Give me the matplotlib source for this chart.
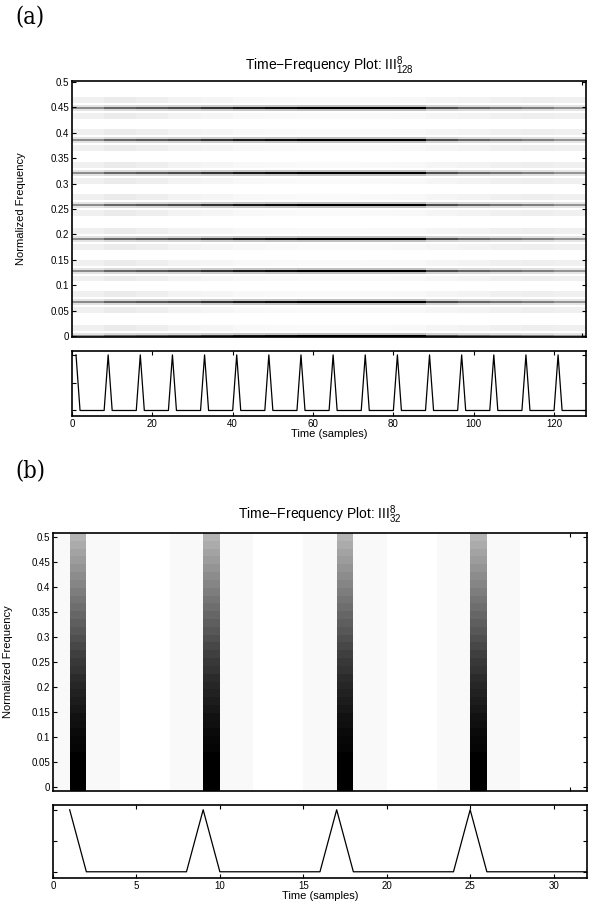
import numpy as np
import matplotlib
matplotlib.use("Agg")
import matplotlib.pyplot as plt

plt.rcParams['font.family'] = ['Liberation Sans', 'DejaVu Sans']
plt.rcParams['mathtext.fontset'] = 'custom'
plt.rcParams['mathtext.rm'] = 'Liberation Sans'
plt.rcParams['mathtext.it'] = 'Liberation Sans'

# ---- panel (a): III^8_128 ----
n_a = 128
pulses_a = [1, 9, 17, 25, 33, 41, 49, 57, 65, 73, 81, 89, 97, 105, 113, 121]
line_freqs_a = [0.0, 0.065, 0.129, 0.193, 0.257, 0.321, 0.386, 0.45]
# darkness of the spectral lines in each 8-sample block
line_dark_a = [0.45, 0.60, 0.65, 0.70, 0.80, 0.90, 0.95, 1.0,
               1.0, 1.0, 1.0, 0.70, 0.60, 0.55, 0.50, 0.42]
# faint side bands around each line, per block
side_dark_a = [0.06, 0.08, 0.07, 0.05, 0.04, 0.03, 0.025, 0.02,
               0.02, 0.025, 0.03, 0.04, 0.05, 0.06, 0.07, 0.06]
block_edges_a = np.arange(0, 129, 8)

# ---- panel (b): III^8_32 ----
n_b = 32
pulses_b = [1, 9, 17, 25]
# column type for each time sample 0..31: dark pulse, light gray, white
col_kind_b = ['l', 'd', 'l', 'l', 'w', 'w', 'w', 'l',
              'l', 'd', 'l', 'l', 'w', 'w', 'w', 'l',
              'l', 'd', 'l', 'l', 'w', 'w', 'w', 'l',
              'l', 'd', 'l', 'l', 'w', 'w', 'w', 'w']
# lightness of the dark columns, from f=0 up to f=0.5 (33 bins)
pulse_light_b = [0.0, 0.0, 0.0, 0.0, 0.0, 0.02, 0.03, 0.04, 0.06, 0.07, 0.09,
                 0.11, 0.13, 0.15, 0.17, 0.20, 0.22, 0.25, 0.28, 0.31, 0.34,
                 0.37, 0.40, 0.43, 0.46, 0.49, 0.52, 0.55, 0.58, 0.61, 0.64,
                 0.67, 0.70]

# build image (a)
nf_a = 129
img_a = np.zeros((nf_a, len(line_dark_a)))
for f in line_freqs_a:
    r = int(round(f * 256))
    for off, w in [(0, 1.0), (-1, 0.25), (1, 0.25)]:
        if 0 <= r + off < nf_a:
            img_a[r + off] = np.maximum(img_a[r + off], w * np.array(line_dark_a))
    for off in [-5, -4, -3, 3, 4, 5]:
        if 0 <= r + off < nf_a:
            img_a[r + off] = np.maximum(img_a[r + off], np.array(side_dark_a))
f_edges_a = (np.arange(nf_a + 1) - 0.5) / 256

# build image (b)
nf_b = 33
img_b = np.zeros((nf_b, n_b))
for j, k in enumerate(col_kind_b):
    if k == 'd':
        img_b[:, j] = 1 - np.array(pulse_light_b)
    elif k == 'l':
        img_b[:, j] = 0.025
f_edges_b = (np.arange(nf_b + 1) - 0.5) / 64
t_edges_b = np.arange(n_b + 1)

sig_a = np.zeros(n_a)
sig_a[np.array(pulses_a) - 1] = 1
sig_b = np.zeros(n_b)
sig_b[np.array(pulses_b) - 1] = 1

fig = plt.figure(figsize=(6, 9.07), dpi=100)


def style(ax):
    ax.tick_params(direction='in', top=True, right=True, length=3,
                   labelsize=7, width=0.8, pad=2)
    for s in ax.spines.values():
        s.set_linewidth(1.2)


ylab_kw = dict(fontsize=8, family=['Liberation Sans Narrow', 'Liberation Sans'])
yt = np.arange(0, 0.51, 0.05)
ytl = ['0', '0.05', '0.1', '0.15', '0.2', '0.25', '0.3', '0.35', '0.4', '0.45', '0.5']

# (a) main
ax1 = fig.add_axes([0.12, 0.6284, 0.857, 0.2822])
ax1.pcolormesh(block_edges_a, f_edges_a, img_a, cmap='gray_r', vmin=0, vmax=1)
ax1.set_xlim(0, n_a)
ax1.set_ylim(f_edges_a[0], 0.5 + 1 / 512)
ax1.set_yticks(yt)
ax1.set_yticklabels(ytl)
ax1.set_xticks([n_a - 1])
ax1.set_xticklabels([])
ax1.set_ylabel('Normalized Frequency', **ylab_kw)
ax1.yaxis.set_label_coords(-0.09, 0.5)
ax1.set_title('Time\u2212Frequency Plot: III$^{8}_{128}$', fontsize=10, pad=8)
style(ax1)

# (a) signal
ax2 = fig.add_axes([0.12, 0.5413, 0.857, 0.0717])
ax2.plot(np.arange(1, n_a + 1), sig_a, color='black', linewidth=0.9)
ax2.set_xlim(0, n_a)
ax2.set_ylim(-0.1, 1.07)
ax2.set_xticks(np.arange(0, 121, 20))
ax2.set_yticks([0, 0.5, 1])
ax2.set_yticklabels([])
ax2.set_xlabel('Time (samples)', fontsize=8, labelpad=0)
style(ax2)

# (b) main
ax3 = fig.add_axes([0.0883, 0.1279, 0.89, 0.2845])
ax3.pcolormesh(t_edges_b, f_edges_b, img_b, cmap='gray_r', vmin=0, vmax=1)
ax3.set_xlim(0, n_b)
ax3.set_ylim(f_edges_b[0], f_edges_b[-1])
ax3.set_yticks(yt)
ax3.set_yticklabels(ytl)
ax3.set_xticks([n_b - 1])
ax3.set_xticklabels([])
ax3.set_ylabel('Normalized Frequency', **ylab_kw)
ax3.yaxis.set_label_coords(-0.074, 0.5)
ax3.set_title('Time\u2212Frequency Plot: III$^{8}_{32}$', fontsize=10, pad=10)
style(ax3)

# (b) signal
ax4 = fig.add_axes([0.0883, 0.032, 0.89, 0.08])
ax4.plot(np.arange(1, n_b + 1), sig_b, color='black', linewidth=0.9)
ax4.set_xlim(0, n_b)
ax4.set_ylim(-0.1, 1.07)
ax4.set_xticks(np.arange(0, 31, 5))
ax4.set_yticks([0, 0.5, 1])
ax4.set_yticklabels([])
ax4.set_xlabel('Time (samples)', fontsize=8, labelpad=0)
style(ax4)

lab_kw = dict(fontsize=17, family='DejaVu Serif', fontstretch='condensed')
fig.text(0.025, 0.993, '(a)', va='top', ha='left', **lab_kw)
fig.text(0.025, 0.493, '(b)', va='top', ha='left', **lab_kw)

fig.savefig('out.png', dpi=100)
